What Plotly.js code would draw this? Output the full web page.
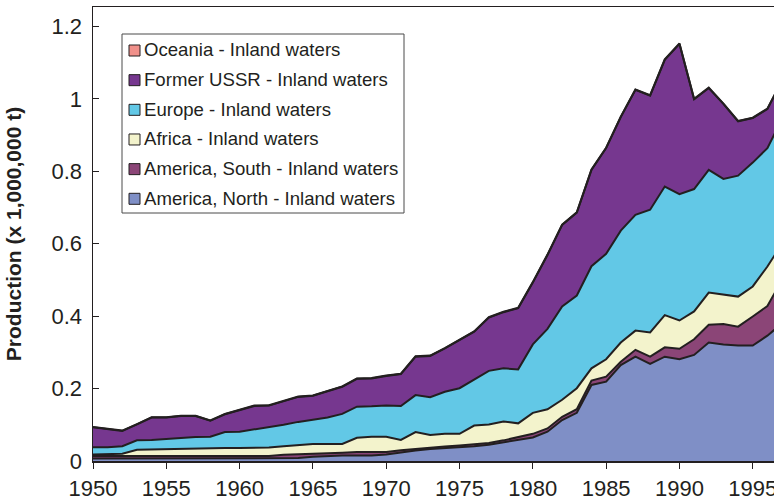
<!DOCTYPE html>
<html>
<head>
<meta charset="utf-8">
<script src="https://cdn.plot.ly/plotly-3.0.1.min.js"></script>
<style>
html,body{margin:0;padding:0;background:#fff;}
#chart{width:774px;height:501px;}
</style>
</head>
<body>
<div id="chart"></div>
<script>
const years = [1950,1951,1952,1953,1954,1955,1956,1957,1958,1959,
               1960,1961,1962,1963,1964,1965,1966,1967,1968,1969,
               1970,1971,1972,1973,1974,1975,1976,1977,1978,1979,
               1980,1981,1982,1983,1984,1985,1986,1987,1988,1989,
               1990,1991,1992,1993,1994,1995,1996,1997];

const americaNorth = [0.007,0.007,0.007,0.007,0.007,0.007,0.007,0.007,0.007,0.007,
                      0.007,0.007,0.007,0.007,0.008,0.012,0.014,0.015,0.015,0.015,
                      0.018,0.024,0.029,0.033,0.035,0.038,0.041,0.045,0.051,0.058,
                      0.065,0.081,0.113,0.133,0.210,0.219,0.265,0.288,0.268,0.288,
                      0.281,0.293,0.327,0.322,0.319,0.319,0.346,0.380];
const americaSouth = [0.007,0.007,0.007,0.007,0.007,0.007,0.007,0.007,0.007,0.009,
                      0.007,0.007,0.007,0.010,0.010,0.008,0.007,0.008,0.010,0.009,
                      0.007,0.006,0.005,0.004,0.005,0.005,0.005,0.005,0.006,0.007,
                      0.010,0.009,0.009,0.010,0.012,0.014,0.009,0.019,0.020,0.026,
                      0.029,0.043,0.049,0.056,0.052,0.080,0.082,0.120];
const africa = [0.004,0.004,0.006,0.017,0.018,0.019,0.021,0.021,0.021,0.020,
                0.022,0.022,0.023,0.024,0.027,0.027,0.026,0.024,0.039,0.043,
                0.042,0.028,0.046,0.035,0.035,0.032,0.052,0.051,0.052,0.039,
                0.058,0.053,0.047,0.058,0.034,0.048,0.053,0.053,0.067,0.089,
                0.078,0.077,0.089,0.081,0.083,0.083,0.109,0.100];
const europe = [0.020,0.020,0.021,0.026,0.026,0.028,0.028,0.031,0.032,0.044,
                0.045,0.051,0.057,0.059,0.063,0.066,0.073,0.083,0.086,0.084,
                0.086,0.094,0.102,0.104,0.116,0.126,0.126,0.148,0.147,0.149,
                0.189,0.222,0.258,0.256,0.282,0.291,0.309,0.320,0.339,0.355,
                0.349,0.338,0.339,0.320,0.334,0.342,0.327,0.345];
const formerUSSR = [0.055,0.050,0.042,0.044,0.062,0.059,0.061,0.058,0.044,0.049,
                    0.059,0.065,0.059,0.066,0.069,0.067,0.072,0.075,0.077,0.077,
                    0.082,0.088,0.106,0.114,0.120,0.133,0.133,0.147,0.155,0.169,
                    0.171,0.204,0.225,0.229,0.266,0.292,0.314,0.345,0.315,0.350,
                    0.415,0.248,0.226,0.207,0.150,0.123,0.108,0.105];
const oceania = [0.001,0.001,0.001,0.001,0.001,0.001,0.001,0.001,0.001,0.001,
                 0.001,0.001,0.001,0.001,0.001,0.001,0.001,0.001,0.001,0.001,
                 0.001,0.001,0.001,0.001,0.001,0.001,0.001,0.001,0.001,0.001,
                 0.001,0.001,0.001,0.001,0.001,0.001,0.001,0.001,0.001,0.001,
                 0.001,0.001,0.001,0.001,0.001,0.001,0.001,0.001];

const seriesNames = ['America, North - Inland waters','America, South - Inland waters',
                     'Africa - Inland waters','Europe - Inland waters',
                     'Former USSR - Inland waters','Oceania - Inland waters'];
const seriesValues = [americaNorth, americaSouth, africa, europe, formerUSSR, oceania];
const seriesColors = ['#7f8fc6','#8b4577','#f3f3cc','#62c8e6','#76378f','#f0908a'];

const INK = '#231f20';
const FONT = 'Liberation Sans, Arial, Helvetica, sans-serif';

const traces = seriesNames.map((name, i) => ({
  type: 'scatter',
  mode: 'lines',
  name: name,
  x: years,
  y: seriesValues[i],
  stackgroup: 'one',
  fillcolor: seriesColors[i],
  line: {color: INK, width: 2},
  showlegend: false,
  hoverinfo: 'x+y+name'
}));

// custom legend (box, swatches, labels) in paper coordinates
const W = 774, H = 501, ML = 93, MR = 0, MT = 7, MB = 40;
const pw = W - ML - MR, ph = H - MT - MB;
const px2x = p => (p - ML) / pw;
const py2y = p => (H - MB - p) / ph;

const shapes = [{
  type: 'rect', xref: 'paper', yref: 'paper',
  x0: px2x(122), x1: px2x(404), y0: py2y(213), y1: py2y(34),
  line: {color: '#4a4a4a', width: 1}, fillcolor: '#ffffff', layer: 'above'
}];
const annotations = [];
const legendOrder = [5,4,3,2,1,0];
legendOrder.forEach((si, k) => {
  const cy = 50 + 29.66 * k;
  shapes.push({
    type: 'rect', xref: 'paper', yref: 'paper',
    x0: px2x(129), x1: px2x(140), y0: py2y(cy + 6), y1: py2y(cy - 5),
    line: {color: INK, width: 1}, fillcolor: seriesColors[si], layer: 'above'
  });
  annotations.push({
    xref: 'paper', yref: 'paper', x: px2x(142), y: py2y(cy),
    xanchor: 'left', yanchor: 'middle', showarrow: false,
    text: seriesNames[si],
    font: {family: FONT, size: 18.6, color: INK}
  });
});

const layout = {
  width: W, height: H,
  margin: {l: ML, r: MR, t: MT, b: MB, pad: 0},
  paper_bgcolor: '#ffffff',
  plot_bgcolor: '#ffffff',
  showlegend: false,
  font: {family: FONT, color: INK},
  xaxis: {
    range: [1950, 1996.45],
    tick0: 1950, dtick: 5,
    ticks: 'outside', ticklen: 6, tickwidth: 1, tickcolor: INK,
    showline: true, linecolor: INK, linewidth: 1.5, mirror: true,
    showgrid: false, zeroline: false,
    tickfont: {family: FONT, size: 22, color: INK},
    ticklabelstandoff: 1,
    ticklabeloverflow: 'allow'
  },
  yaxis: {
    range: [0, 1.2537],
    tick0: 0, dtick: 0.2,
    ticks: 'inside', ticklen: 6, tickwidth: 1, tickcolor: INK,
    showline: true, linecolor: INK, linewidth: 1.5, mirror: true,
    showgrid: false, zeroline: false,
    tickfont: {family: FONT, size: 22, color: INK},
    ticklabelstandoff: 5,
    title: {text: 'Production (x 1,000,000 t)', standoff: 24,
            font: {family: FONT, size: 21, color: INK, weight: 'bold'}}
  },
  shapes: shapes,
  annotations: annotations
};

Plotly.newPlot('chart', traces, layout, {displayModeBar: false, staticPlot: true});
</script>
</body>
</html>
